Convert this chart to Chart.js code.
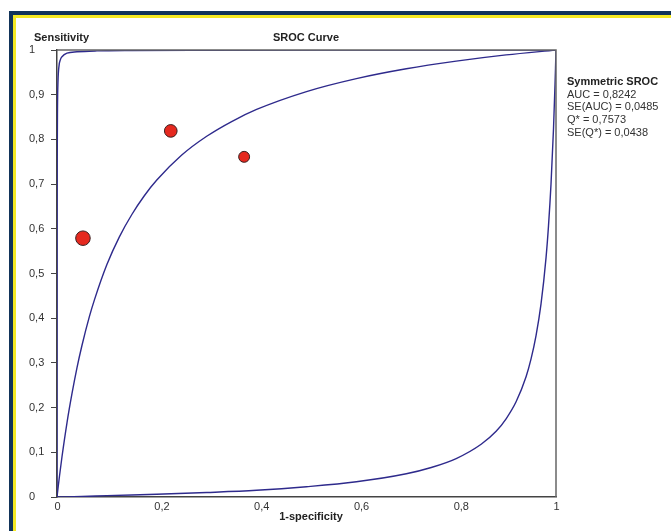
<!DOCTYPE html>
<html>
<head>
<meta charset="utf-8">
<script src="https://cdn.jsdelivr.net/npm/chart.js@4.4.1/dist/chart.umd.min.js"></script>
<style>
  html, body { margin: 0; padding: 0; background: #ffffff; overflow: hidden; width: 671px; height: 531px; }
  .frame { position: absolute; left: 9px; top: 11px; width: 700px; height: 560px; background: #12345a; }
  .frame-yellow { position: absolute; left: 4px; top: 4px; right: 0; bottom: 0; background: #f5e923; }
  .frame-white { position: absolute; left: 3px; top: 3px; right: 0; bottom: 0; background: #ffffff; }
  #wrap { position: absolute; left: 0; top: 0; width: 671px; height: 531px; }
</style>
</head>
<body>
<div class="frame"><div class="frame-yellow"><div class="frame-white"></div></div></div>
<div id="wrap"><canvas id="sroc" width="671" height="531"></canvas></div>
<script>
// Study estimates (1-specificity, sensitivity) and relative weights
const studyFpr = [0.052, 0.228, 0.375];
const studySens = [0.579, 0.819, 0.761];
const studyWeight = [53, 40, 30];

// Symmetric SROC curve
const symFpr = [0, 0.0025, 0.005, 0.01, 0.02, 0.03, 0.04, 0.05, 0.065, 0.075, 0.1, 0.125, 0.15, 0.175, 0.2, 0.25, 0.3, 0.35, 0.4, 0.5, 0.6, 0.7, 0.8, 0.9, 1];
const symSens = [0, 0.024, 0.047, 0.090, 0.166, 0.231, 0.289, 0.339, 0.404, 0.441, 0.520, 0.582, 0.632, 0.674, 0.709, 0.765, 0.807, 0.840, 0.867, 0.907, 0.936, 0.958, 0.975, 0.989, 1];

// Upper-left curve
const upperFpr = [0, 0.0002, 0.0005, 0.001, 0.002, 0.004, 0.007, 0.01, 0.02, 0.04, 0.08, 0.15, 0.3, 0.6, 1];
const upperSens = [0, 0.570, 0.768, 0.869, 0.930, 0.964, 0.979, 0.985, 0.993, 0.996, 0.998, 0.999, 0.9996, 0.9999, 1];

// Lower-right curve
const lowerFpr = [0, 0.05, 0.1, 0.2, 0.3, 0.4, 0.5, 0.6, 0.7, 0.75, 0.8, 0.85, 0.88, 0.9, 0.92, 0.94, 0.95, 0.96, 0.97, 0.98, 0.985, 0.99, 0.995, 0.998, 0.999, 1];
const lowerSens = [0, 0.001, 0.003, 0.006, 0.010, 0.015, 0.023, 0.034, 0.052, 0.066, 0.086, 0.118, 0.147, 0.175, 0.213, 0.269, 0.309, 0.361, 0.432, 0.535, 0.607, 0.700, 0.824, 0.922, 0.959, 1];

const xTickLabels = ['0', '0,2', '0,4', '0,6', '0,8', '1'];
const yTickLabels = ['0', '0,1', '0,2', '0,3', '0,4', '0,5', '0,6', '0,7', '0,8', '0,9', '1'];

const summaryTitle = 'Symmetric SROC';
const summaryLines = ['AUC = 0,8242', 'SE(AUC) = 0,0485', 'Q* = 0,7573', 'SE(Q*) = 0,0438'];

const FONT = '"Liberation Sans", Arial, sans-serif';
const curveColor = '#2e2a8c';

const toPoints = (xs, ys) => xs.map((x, i) => ({ x: x, y: ys[i] }));

const curveStyle = {
    showLine: true,
    pointRadius: 0,
    borderColor: curveColor,
    borderWidth: 1.4,
    cubicInterpolationMode: 'monotone',
    order: 2
};

// Titles, summary box and the top/right frame lines
const decorPlugin = {
    id: 'decor',
    afterDraw(chart) {
        const c = chart.ctx;
        const a = chart.chartArea;
        c.save();
        c.strokeStyle = '#666666';
        c.lineWidth = 1.5;
        c.beginPath();
        c.moveTo(a.left, a.top);
        c.lineTo(a.right, a.top);
        c.lineTo(a.right, a.bottom);
        c.stroke();

        c.fillStyle = '#222222';
        c.textBaseline = 'middle';
        c.font = 'bold 11px ' + FONT;
        c.textAlign = 'left';
        c.fillText('Sensitivity', 34, 38);
        c.textAlign = 'center';
        c.fillText('SROC Curve', 306, 38);
        c.fillText('1-specificity', 311, 517);

        c.textAlign = 'left';
        c.fillText(summaryTitle, 567, 82);
        c.font = '11px ' + FONT;
        c.fillStyle = '#333333';
        summaryLines.forEach((t, i) => c.fillText(t, 567, 94.5 + i * 12.8));
        c.restore();
    }
};

const ctx = document.getElementById('sroc');
new Chart(ctx, {
    type: 'scatter',
    data: {
        datasets: [
            {
                data: toPoints(studyFpr, studySens),
                pointRadius: studyWeight.map(w => Math.sqrt(w)),
                backgroundColor: '#e5291f',
                borderColor: '#3a2020',
                borderWidth: 1,
                order: 0
            },
            Object.assign({ data: toPoints(symFpr, symSens) }, curveStyle),
            Object.assign({ data: toPoints(upperFpr, upperSens) }, curveStyle),
            Object.assign({ data: toPoints(lowerFpr, lowerSens) }, curveStyle)
        ]
    },
    options: {
        responsive: false,
        animation: false,
        events: [],
        layout: { padding: { left: 29, right: 115, top: 50, bottom: 0 } },
        plugins: {
            legend: { display: false },
            tooltip: { enabled: false }
        },
        scales: {
            x: {
                type: 'linear',
                min: 0,
                max: 1,
                z: 1,
                afterFit: (s) => { s.height = 34; },
                grid: { drawOnChartArea: false, drawTicks: false },
                border: { color: '#444444', width: 1.5 },
                ticks: {
                    stepSize: 0.2,
                    padding: 3,
                    align: 'start',
                    labelOffset: -2.5,
                    autoSkip: false,
                    maxRotation: 0,
                    color: '#333333',
                    font: { family: FONT, size: 11 },
                    callback: (v, i) => xTickLabels[i]
                }
            },
            y: {
                type: 'linear',
                min: 0,
                max: 1,
                z: 1,
                afterFit: (s) => { s.width = 28; },
                grid: { drawOnChartArea: false, drawTicks: true, tickLength: 6, color: '#444444' },
                border: { color: '#444444', width: 1.5 },
                ticks: {
                    stepSize: 0.1,
                    crossAlign: 'far',
                    autoSkip: false,
                    color: '#333333',
                    font: { family: FONT, size: 11 },
                    callback: (v, i) => yTickLabels[i]
                }
            }
        }
    },
    plugins: [decorPlugin]
});
</script>
</body>
</html>
